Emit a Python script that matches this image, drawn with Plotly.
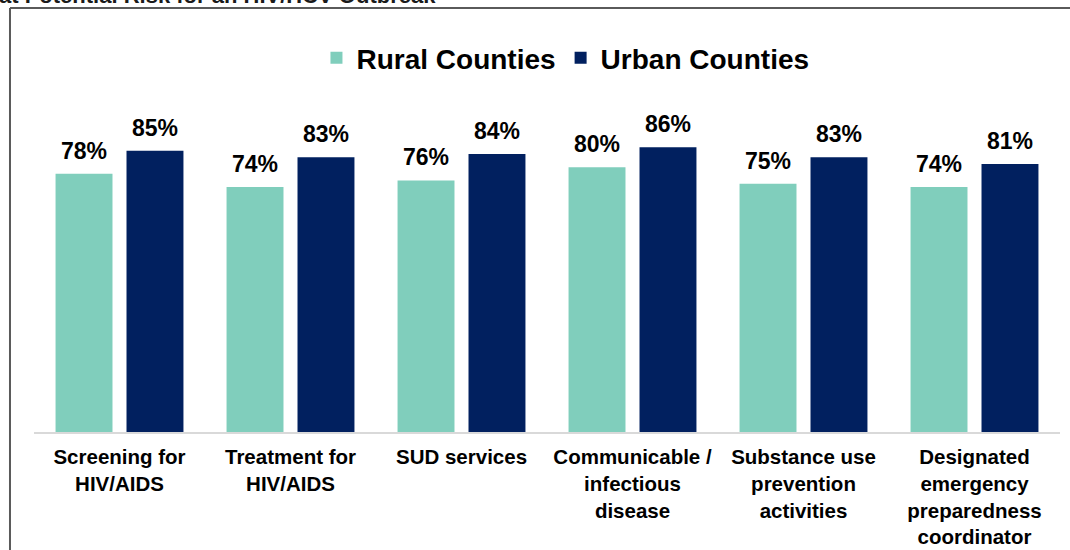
import plotly.graph_objects as go

categories = ["Screening for<br>HIV/AIDS", "Treatment for<br>HIV/AIDS", "SUD services",
              "Communicable /<br>infectious<br>disease", "Substance use<br>prevention<br>activities",
              "Designated<br>emergency<br>preparedness<br>coordinator"]
rural = [78, 74, 76, 80, 75, 74]
urban = [85, 83, 84, 86, 83, 81]
series_names = ["Rural Counties", "Urban Counties"]
title_text = "at Potential Risk for an HIV/HCV Outbreak"

RURAL_C = "#80CEBC"
URBAN_C = "#01205F"
FONT = "Liberation Sans, Arial, sans-serif"

x_idx = list(range(len(categories)))

fig = go.Figure()
fig.add_trace(go.Bar(x=x_idx, y=rural, name=series_names[0], marker_color=RURAL_C,
                     marker_line_width=0, width=0.333, offset=-0.374))
fig.add_trace(go.Bar(x=x_idx, y=urban, name=series_names[1], marker_color=URBAN_C,
                     marker_line_width=0, width=0.333, offset=0.041))

label_font = dict(family=FONT, size=23, color="black", weight="bold")
annotations = []
for i, (r, u) in enumerate(zip(rural, urban)):
    annotations.append(dict(x=i - 0.2075, y=r, text=f"{r}%", showarrow=False, yanchor="bottom",
                            yshift=8, font=label_font))
    annotations.append(dict(x=i + 0.2075, y=u, text=f"{u}%", showarrow=False, yanchor="bottom",
                            yshift=8, font=label_font))

annotations.append(dict(xref="paper", yref="paper", x=-0.036, y=1.276, xanchor="left", yanchor="bottom",
                        text=title_text, showarrow=False,
                        font=dict(family=FONT, size=22, color="#1a1a1a", weight="bold")))

fig.update_layout(
    width=1070, height=550,
    margin=dict(l=34, r=10, t=101, b=118, autoexpand=False),
    plot_bgcolor="white", paper_bgcolor="white",
    barmode="overlay",
    showlegend=True,
    legend=dict(orientation="h", x=0.518, xanchor="center", y=1.13, yanchor="middle",
                font=dict(family=FONT, size=28, color="black", weight="bold"),
                itemwidth=30, tracegroupgap=0, bgcolor="rgba(0,0,0,0)"),
    xaxis=dict(tickmode="array", tickvals=x_idx, ticktext=categories, range=[-0.5, 5.5],
               showline=True, linecolor="#D9D9D9", linewidth=1.5, ticks="", showgrid=False,
               zeroline=False, ticklabelstandoff=6, automargin=False,
               tickfont=dict(family=FONT, size=20.5, color="black", weight="bold")),
    yaxis=dict(range=[0, 100], visible=False, showgrid=False, zeroline=False, automargin=False),
    annotations=annotations,
    shapes=[
        dict(type="line", xref="paper", yref="paper", x0=-0.0234, x1=1.02, y0=1.281, y1=1.281,
             line=dict(color="#5a5a5a", width=2)),
        dict(type="line", xref="paper", yref="paper", x0=-0.0234, x1=-0.0234, y0=1.281, y1=-0.4,
             line=dict(color="#5a5a5a", width=2)),
    ],
)

fig.write_html("out.html", config={"displayModeBar": False},
               post_script="document.body.style.margin='0';document.body.style.overflow='hidden';")
